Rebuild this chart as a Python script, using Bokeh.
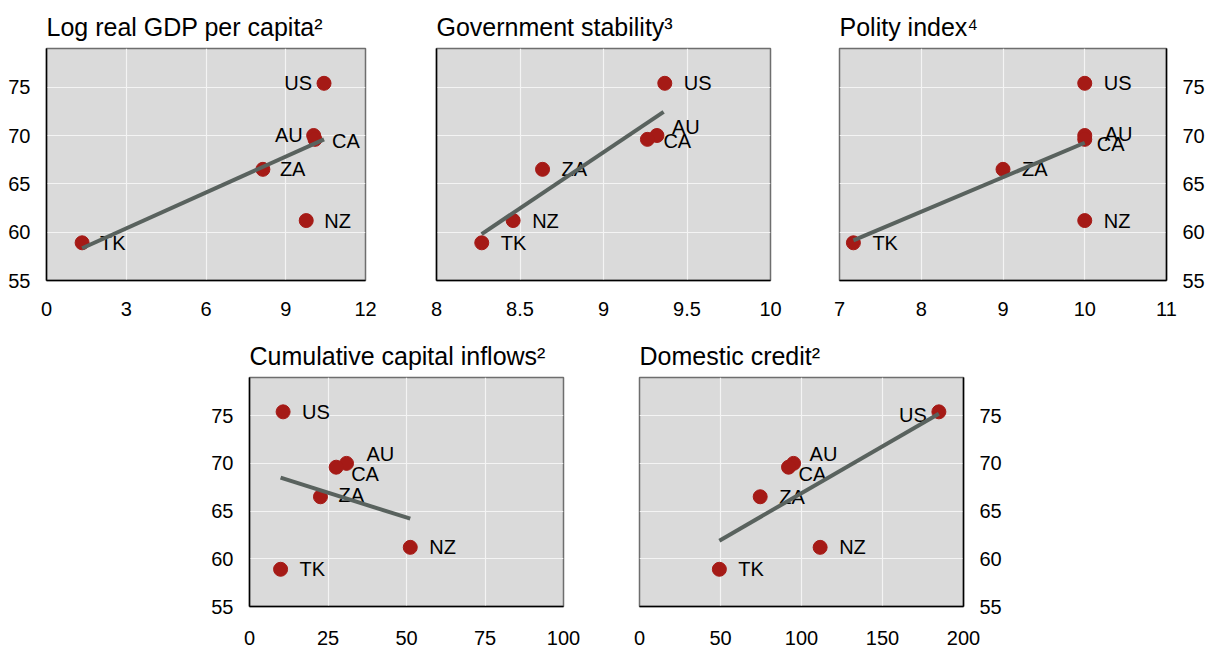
from bokeh.plotting import figure
from bokeh.layouts import column, row
from bokeh.models import Range1d, FixedTicker, Spacer, ColumnDataSource
from bokeh.embed import file_html
from bokeh.resources import INLINE

# ---------------- data ----------------
countries = ["US", "AU", "CA", "ZA", "NZ", "TK"]
outcome = [75.4, 70.0, 69.6, 66.5, 61.2, 58.9]

gdp_pc = [10.44, 10.05, 10.10, 8.14, 9.77, 1.34]
gov_stability = [9.367, 9.32, 9.263, 8.635, 8.459, 8.271]
polity = [10.0, 10.0, 10.0, 9.0, 10.0, 7.17]
capital_inflows = [10.7, 30.9, 27.6, 22.6, 51.2, 9.9]
domestic_credit = [184.8, 95.1, 92.0, 74.5, 111.5, 49.3]

# fitted lines (end points)
fit_gdp_x = [1.34, 10.44]
fit_gdp_y = [58.34, 69.6]
fit_gov_x = [8.27, 9.36]
fit_gov_y = [59.8, 72.45]
fit_pol_x = [7.17, 10.0]
fit_pol_y = [59.15, 69.25]
fit_cap_x = [9.9, 51.2]
fit_cap_y = [68.5, 64.2]
fit_cred_x = [49.3, 184.8]
fit_cred_y = [61.9, 75.2]

titles = ["Log real GDP per capita\u00b2", "Government stability\u00b3", "Polity index\u2074",
          "Cumulative capital inflows\u00b2", "Domestic credit\u00b2"]
y_ticks = [55, 60, 65, 70, 75]
x_ticks_gdp = [0, 3, 6, 9, 12]
x_ticks_gov = [8, 8.5, 9, 9.5, 10]
x_ticks_pol = [7, 8, 9, 10, 11]
x_ticks_cap = [0, 25, 50, 75, 100]
x_ticks_cred = [0, 50, 100, 150, 200]

# ---------------- style ----------------
FONT = "Liberation Sans"
DOT = "#A51A16"
LINE = "#59625E"
BG = "#DADADA"

# label offsets (px) and alignment per panel: country -> (dx, dy, align)
default_off = (19, 0, "left")
offsets = [
    {"US": (-12, 0, "right"), "AU": (-11, -1, "right"), "CA": (17, 2, "left"), "ZA": (17, 0, "left"), "NZ": (18, 0, "left"), "TK": (18, 0, "left")},
    {"AU": (15, -9, "left"), "CA": (16, 2, "left")},
    {"AU": (20, -2, "left"), "CA": (12, 5, "left")},
    {"AU": (20, -9, "left"), "CA": (15, 7, "left"), "ZA": (18, -2, "left")},
    {"US": (-12, 3, "right"), "AU": (16, -9, "left"), "CA": (10, 7, "left")},
]


def panel(title, xs, fit_x, fit_y, xr, xticks, ylab, offs, width, height, bl, br, bt, bb, xstand):
    p = figure(width=width, height=height, output_backend="svg", toolbar_location=None,
               x_range=Range1d(*xr), y_range=Range1d(55, 79),
               y_axis_location="right" if ylab == "right" else "left",
               min_border_left=bl, min_border_right=br, min_border_top=bt, min_border_bottom=bb)
    p.title.text = title
    p.title.text_font = FONT
    p.title.text_font_size = "25px"
    p.title.text_font_style = "normal"
    p.title.text_color = "black"
    p.title.align = "left"
    p.title.standoff = 16
    p.background_fill_color = BG
    p.border_fill_color = "white"
    p.outline_line_color = "#6E6E6E"
    p.outline_line_width = 1.5

    for ax in (p.xaxis[0], p.yaxis[0]):
        ax.axis_line_color = "black"
        ax.axis_line_width = 1.5
        ax.major_tick_out = 0
        ax.major_tick_in = 0
        ax.minor_tick_out = 0
        ax.minor_tick_in = 0
        ax.major_label_text_font = FONT
        ax.major_label_text_font_size = "20px"
        ax.major_label_text_color = "black"
    p.xaxis[0].ticker = FixedTicker(ticks=xticks)
    p.xaxis[0].major_label_standoff = xstand
    if ylab is None:
        p.yaxis[0].ticker = FixedTicker(ticks=[])
        p.yaxis[0].major_label_standoff = 0
    else:
        p.yaxis[0].ticker = FixedTicker(ticks=y_ticks)
        p.yaxis[0].major_label_standoff = 16

    p.xgrid.ticker = FixedTicker(ticks=xticks)
    p.ygrid.ticker = FixedTicker(ticks=y_ticks)
    for g in (p.xgrid[0], p.ygrid[0]):
        g.grid_line_color = "#F4F4F4"
        g.grid_line_width = 1.2

    dx, dy, al = [], [], []
    for c in countries:
        o = offs.get(c, default_off)
        dx.append(o[0]); dy.append(o[1]); al.append(o[2])
    src = ColumnDataSource(dict(x=xs, y=outcome))
    p.scatter("x", "y", source=src, size=14, fill_color=DOT, line_color=DOT)
    for a in ("left", "right"):
        idx = [i for i in range(len(countries)) if al[i] == a]
        if not idx:
            continue
        s = ColumnDataSource(dict(x=[xs[i] for i in idx], y=[outcome[i] for i in idx],
                                  t=[countries[i] for i in idx], dx=[dx[i] for i in idx],
                                  dy=[dy[i] for i in idx]))
        p.text("x", "y", text="t", source=s, x_offset="dx", y_offset="dy",
               text_align=a, text_baseline="middle", text_font_size="20px",
               text_font={"value": FONT}, text_color="black")
    p.line(fit_x, fit_y, line_color=LINE, line_width=4)
    return p


# top row: y 0..325, frames 48..280
p1 = panel(titles[0], gdp_pc, fit_gdp_x, fit_gdp_y, (0, 12), x_ticks_gdp, "left", offsets[0],
           400, 325, 46, 35, 48, 45, 21)
p2 = panel(titles[1], gov_stability, fit_gov_x, fit_gov_y, (8, 10), x_ticks_gov, None, offsets[1],
           400, 325, 36, 30, 48, 45, 21)
p3 = panel(titles[2], polity, fit_pol_x, fit_pol_y, (7, 11), x_ticks_pol, "right", offsets[2],
           412, 325, 39, 46, 48, 45, 21)
# bottom row: y 325..647, frames 377..607
p4 = panel(titles[3], capital_inflows, fit_cap_x, fit_cap_y, (0, 100), x_ticks_cap, "left", offsets[3],
           400, 322, 49, 37, 52, 40, 24)
p5 = panel(titles[4], domestic_credit, fit_cred_x, fit_cred_y, (0, 200), x_ticks_cred, "right", offsets[4],
           410, 322, 39, 47, 52, 40, 24)

layout = column(row(p1, p2, p3), row(Spacer(width=200, height=322), p4, p5))
open("out.html", "w").write(file_html(layout, INLINE))
